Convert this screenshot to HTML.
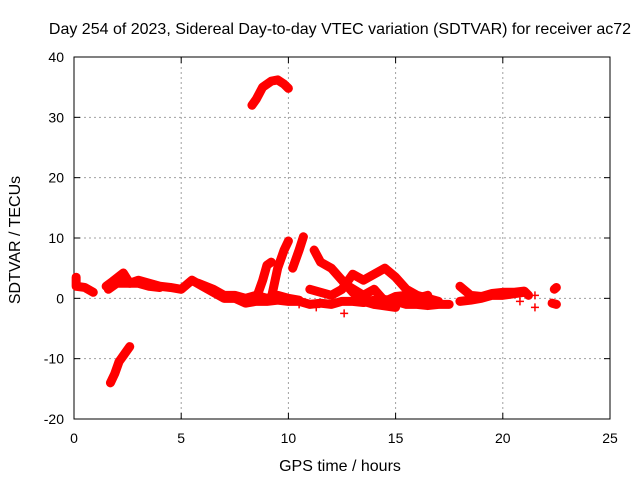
<!DOCTYPE html>
<html><head><meta charset="utf-8"><style>
body{margin:0;background:#fff}
svg{font-family:"Liberation Sans",sans-serif;font-size:14px}
</style></head><body>
<svg width="640" height="480">
<rect width="640" height="480" fill="#fff"/>
<text x="340" y="34" text-anchor="middle" style="font-size:16px">Day 254 of 2023, Sidereal Day-to-day VTEC variation (SDTVAR) for receiver ac72</text>
<g id="grid"></g>
<g id="axes"></g>
<g id="marks"></g>
<text x="340" y="471" text-anchor="middle" style="font-size:16px">GPS time / hours</text>
<text transform="translate(20,240) rotate(-90)" text-anchor="middle" style="font-size:16px">SDTVAR / TECUs</text>
</svg>
<script>
const xTicks=[0,5,10,15,20,25];
const yTicks=[-20,-10,0,10,20,30,40];
const trackEarly=[[0.1,3.5],[0.1,2],[0.5,1.8],[0.9,1.0]];
const trackMain=[[1.5,2],[1.8,2.8],[2.3,4.2],[2.6,2.5],[3.0,3.0],[3.5,2.5],[4,2],[4.5,1.8],[5,1.5],[5.5,3],[6,2],[6.5,1],[7,0],[7.5,0],[8,-0.8],[8.5,-0.5],[9,-0.5],[9.5,-0.3],[10,-0.5],[10.5,-0.5],[11,-1],[11.5,-0.8],[12,-1],[12.5,-0.5],[13,-0.5],[13.5,-0.7],[14,-0.3],[14.5,-0.2],[15,-0.5],[15.5,-1],[16,-1],[16.5,-1.2],[17,-1],[17.5,-1]];
const trackUpper=[[1.6,1.5],[2,2.5],[2.5,2.5],[3,2.5],[3.5,2.0],[4,1.8]];
const trackLower=[[5.8,2.5],[6.5,1.5],[7,0.5],[7.5,0.5],[8,0],[8.5,0.5],[9,0],[9.5,0.5],[10,0],[10.5,-0.3]];
const spikeA=[[8.5,0],[8.8,3],[9.0,5.5],[9.2,6]];
const spikeB=[[9.2,0],[9.5,5],[9.8,8],[10,9.5]];
const spikeC=[[10.2,5],[10.5,8],[10.7,10.2]];
const trackD=[[11.2,8],[11.5,6],[12,5],[12.5,3],[13,1],[13.5,-0.5],[14,-1],[15,-1.5]];
const trackE=[[11,1.5],[11.5,1],[12,0.5],[12.5,1.5],[13,4],[13.5,3],[14,4],[14.5,5],[15,3.5],[15.5,1.5],[16,0.5],[16.5,0],[17,-0.5]];
const trackF=[[12.8,2],[13.5,0.5],[14,1.5],[14.5,-0.5],[15,0.3],[15.5,0.5],[16,0],[16.5,0.5]];
const trackG=[[18,2],[18.5,0.5],[19,0.3],[19.5,0.8],[20,1],[20.5,1],[21,1.2],[21.2,0.5]];
const trackH=[[18,-0.5],[18.5,-0.3],[19,0],[19.5,0.5],[20,0.5],[21,1]];
const trackI=[[22.4,1.5],[22.5,1.8]];
const trackJ=[[22.3,-0.8],[22.5,-1]];
const trackArc=[[8.3,32],[8.5,33],[8.8,35],[9.2,36],[9.5,36.2],[9.8,35.5],[10,34.8]];
const trackNeg=[[1.7,-14],[1.9,-12.5],[2.1,-10.5],[2.4,-9],[2.6,-8]];
const isolated=[[21.5,0.5],[21.5,-1.5],[12.6,-2.5],[11.3,-1.5],[20.8,-0.5],[10.5,-1.0]];
const tracks=[trackEarly,trackMain,trackUpper,trackLower,spikeA,spikeB,spikeC,trackD,trackE,trackF,trackG,trackH,trackI,trackJ,trackArc,trackNeg];
const X0=74,X1=610,Y0=419,Y1=57;
const sx=h=>X0+(h-0)/25*(X1-X0);
const sy=v=>Y0-(v+20)/60*(Y0-Y1);
const NS="http://www.w3.org/2000/svg";
function mk(t,a,p){const e=document.createElementNS(NS,t);for(const k in a)e.setAttribute(k,a[k]);p.appendChild(e);return e;}
const grid=document.getElementById('grid'),axes=document.getElementById('axes'),marks=document.getElementById('marks');
xTicks.forEach(t=>{const x=sx(t);
 if(t>0&&t<25){const l=mk('line',{x1:x,y1:Y1,x2:x,y2:Y0,stroke:'#a0a0a0','stroke-dasharray':'2,3'},grid);}
 mk('line',{x1:x,y1:Y0,x2:x,y2:Y0-6,stroke:'#000'},axes);mk('line',{x1:x,y1:Y1,x2:x,y2:Y1+6,stroke:'#000'},axes);
 const tx=mk('text',{x:x,y:Y0+24,'text-anchor':'middle'},axes);tx.textContent=t;
 });
yTicks.forEach(t=>{const y=sy(t);
 if(t>-20&&t<40){const l=mk('line',{x1:X0,y1:y,x2:X1,y2:y,stroke:'#a0a0a0','stroke-dasharray':'2,3'},grid);}
 mk('line',{x1:X0,y1:y,x2:X0+6,y2:y,stroke:'#000'},axes);mk('line',{x1:X1,y1:y,x2:X1-6,y2:y,stroke:'#000'},axes);
 const tx=mk('text',{x:X0-10,y:y+5,'text-anchor':'end'},axes);tx.textContent=t;
 });
const fr=mk('rect',{x:X0,y:Y1,width:X1-X0,height:Y0-Y1,fill:'none',stroke:'#000'},axes);

function plus(p){const x=sx(p[0]),y=sy(p[1]);
  const g=mk('path',{d:`M${x-4},${y}h8M${x},${y-4}v8`,stroke:'#f00','stroke-width':1.5},marks);
  }
tracks.forEach(tr=>{
 if(tr.length>1){const pl=mk('polyline',{points:tr.map(p=>sx(p[0])+','+sy(p[1])).join(' '),fill:'none',stroke:'#f00','stroke-width':9,'stroke-linejoin':'round','stroke-linecap':'round'},marks);
  }
 tr.forEach(plus);
});
isolated.forEach(plus);
</script>
</body></html>
